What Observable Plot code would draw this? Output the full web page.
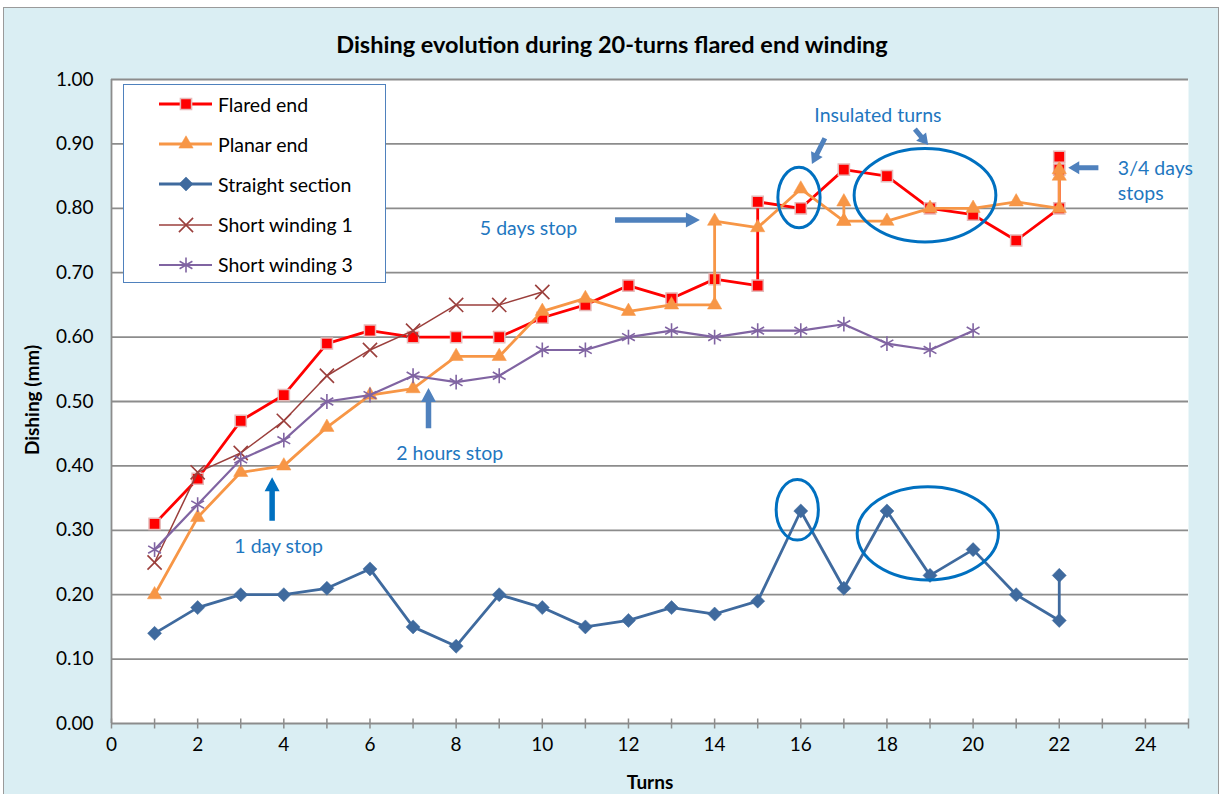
<!DOCTYPE html>
<html>
<head>
<meta charset="utf-8">
<script src="https://cdn.jsdelivr.net/npm/d3@7"></script>
<script src="https://cdn.jsdelivr.net/npm/@observablehq/plot@0.6"></script>
<style>
  body { margin: 0; background: #ffffff; font-family: Lato, "Open Sans", sans-serif; }
  #wrap { position: relative; width: 1221px; height: 794px; overflow: hidden; }
  #bg { position: absolute; left: 3px; top: 7px; width: 1216px; height: 800px; background: #DAEEF3; border: 1px solid #9a9a9a; box-sizing: border-box; }
  #chart { position: absolute; left: 0; top: 0; }
  #title { position: absolute; top: 44px; left: 612px; transform: translate(-50%, -50%); text-align: center; font-weight: bold; font-size: 23.5px; color: #000; white-space: nowrap; }
  #ylabel { position: absolute; left: 31px; top: 400px; transform: translate(-50%, -50%) rotate(-90deg); font-weight: bold; font-size: 19px; white-space: nowrap; }
  #xlabel { position: absolute; left: 650px; top: 781px; transform: translate(-50%, -50%); font-weight: bold; font-size: 19px; }
  #legend { position: absolute; left: 123px; top: 84px; width: 263px; height: 199px; background: #fff; border: 1.5px solid #4F81BD; box-sizing: border-box; }
  .lrow { position: absolute; left: 0; height: 24px; display: flex; align-items: center; font-size: 19.5px; white-space: nowrap; }
</style>
</head>
<body>
<div id="wrap">
  <div id="bg"></div>
  <div id="chart"></div>
  <div id="title">Dishing evolution during 20-turns flared end winding</div>
  <div id="ylabel">Dishing (mm)</div>
  <div id="xlabel">Turns</div>
  <div id="legend"></div>
</div>
<script>
// ---------- data (turn, dishing in mm), in measurement order ----------
const flaredEnd = [[1,0.31],[2,0.38],[3,0.47],[4,0.51],[5,0.59],[6,0.61],[7,0.60],[8,0.60],[9,0.60],[10,0.63],[11,0.65],[12,0.68],[13,0.66],[14,0.69],[15,0.68],[15,0.81],[16,0.80],[17,0.86],[18,0.85],[19,0.80],[20,0.79],[21,0.75],[22,0.80],[22,0.86],[22,0.88]];
const planarEnd = [[1,0.20],[2,0.32],[3,0.39],[4,0.40],[5,0.46],[6,0.51],[7,0.52],[8,0.57],[9,0.57],[10,0.64],[11,0.66],[12,0.64],[13,0.65],[14,0.65],[14,0.78],[15,0.77],[16,0.83],[17,0.78],[17,0.81],[17,0.78],[18,0.78],[19,0.80],[20,0.80],[21,0.81],[22,0.80],[22,0.85],[22,0.86]];
const straightSection = [[1,0.14],[2,0.18],[3,0.20],[4,0.20],[5,0.21],[6,0.24],[7,0.15],[8,0.12],[9,0.20],[10,0.18],[11,0.15],[12,0.16],[13,0.18],[14,0.17],[15,0.19],[16,0.33],[17,0.21],[18,0.33],[19,0.23],[20,0.27],[21,0.20],[22,0.16],[22,0.23]];
const shortWinding1 = [[1,0.25],[2,0.39],[3,0.42],[4,0.47],[5,0.54],[6,0.58],[7,0.61],[8,0.65],[9,0.65],[10,0.67]];
const shortWinding3 = [[1,0.27],[2,0.34],[3,0.41],[4,0.44],[5,0.50],[6,0.51],[7,0.54],[8,0.53],[9,0.54],[10,0.58],[11,0.58],[12,0.60],[13,0.61],[14,0.60],[15,0.61],[16,0.61],[17,0.62],[18,0.59],[19,0.58],[20,0.61]];

const seriesNames = ["Flared end", "Planar end", "Straight section", "Short winding 1", "Short winding 3"];

// ---------- ticks ----------
const xTicks = [0, 2, 4, 6, 8, 10, 12, 14, 16, 18, 20, 22, 24];
const xMinorTicks = [0, 1, 2, 3, 4, 5, 6, 7, 8, 9, 10, 11, 12, 13, 14, 15, 16, 17, 18, 19, 20, 21, 22, 23, 24, 25];
const yTicks = [0, 0.1, 0.2, 0.3, 0.4, 0.5, 0.6, 0.7, 0.8, 0.9, 1.0];

// ---------- annotations (data coordinates) ----------
const noteLabels = ["5 days stop", "1 day stop", "2 hours stop", "Insulated turns"];
const noteTurns = [9.68, 3.88, 7.85, 17.79];
const noteValues = [0.769, 0.274, 0.419, 0.944];
const stopsLabel = ["3/4 days\nstops"];
const stopsTurn = [23.36];
const stopsValue = [0.844];

// arrows: [turn from, value from, turn to (tip), value to (tip)]
const arrowsSteel = [
  [11.70, 0.781, 13.67, 0.781],
  [7.37, 0.4576, 7.37, 0.520],
  [16.57, 0.908, 16.27, 0.868],
  [18.66, 0.922, 18.97, 0.8975],
  [22.92, 0.862, 22.22, 0.862]
];
const arrowsBright = [
  [3.74, 0.314, 3.74, 0.3815]
];
// ellipses: [turn min, turn max, value min, value max]
const ellipses = [
  [15.48, 16.46, 0.769, 0.863],
  [17.25, 20.54, 0.747, 0.892],
  [15.44, 16.42, 0.284, 0.378],
  [17.32, 20.60, 0.222, 0.367]
];

// ---------- styles ----------
const styles = [
  {color: "#FF0000", width: 2.8, symbol: "square", r: 6.3, fill: "#FF0000", stroke: "#E6B9B8", sw: 1.5, rotate: 0},
  {color: "#F79646", width: 2.8, symbol: "triangle", r: 5.3, fill: "#F79646", stroke: "#F79646", sw: 0.5, rotate: 0},
  {color: "#3F6A9E", width: 2.8, symbol: "square", r: 5.6, fill: "#3F6A9E", stroke: "#3F6A9E", sw: 0.5, rotate: 45},
  {color: "#9B3F3C", width: 1.5, symbol: "times", r: 6.5, fill: "none", stroke: "#9B3F3C", sw: 1.6, rotate: 0},
  {color: "#8064A2", width: 2.2, symbol: "asterisk", r: 7, fill: "none", stroke: "#8064A2", sw: 1.6, rotate: 0}
];
const seriesData = [flaredEnd, planarEnd, straightSection, shortWinding1, shortWinding3];

const vtick = { draw(ctx) { ctx.moveTo(0, -5); ctx.lineTo(0, 5); } };

function blockArrow(x1, y1, x2, y2, shaftW = 5.5, headW = 15, headL = 14) {
  const dx = x2 - x1, dy = y2 - y1, L = Math.hypot(dx, dy);
  const ux = dx / L, uy = dy / L, nx = -uy, ny = ux;
  const hl = Math.min(headL, L * 0.6);
  const bx = x1 + ux * (L - hl), by = y1 + uy * (L - hl);
  const pts = [
    [x1 + nx * shaftW / 2, y1 + ny * shaftW / 2],
    [bx + nx * shaftW / 2, by + ny * shaftW / 2],
    [bx + nx * headW / 2, by + ny * headW / 2],
    [x2, y2],
    [bx - nx * headW / 2, by - ny * headW / 2],
    [bx - nx * shaftW / 2, by - ny * shaftW / 2],
    [x1 - nx * shaftW / 2, y1 - ny * shaftW / 2]
  ];
  return pts.map(p => p.join(",")).join(" ");
}

const marks = [
  Plot.frame({fill: "white", stroke: "none"}),
  Plot.ruleY(yTicks, {y: d => d, stroke: "#8C8C8C", strokeWidth: 1.8}),
  Plot.ruleX([0], {x: d => d, stroke: "#8C8C8C", strokeWidth: 1.8}),
  Plot.dot(xMinorTicks, {x: d => d, y: () => 0, symbol: vtick, stroke: "#8C8C8C", strokeWidth: 1.5}),
  Plot.axisY(yTicks, {tickSize: 0, tickPadding: 18, tickFormat: d3.format(".2f"), label: null, fontSize: 19}),
  Plot.axisX(xTicks, {tickSize: 0, tickPadding: 14, label: null, fontSize: 19})
];

seriesData.forEach((data, i) => {
  const s = styles[i];
  marks.push(Plot.line(data, {x: d => d[0], y: d => d[1], stroke: s.color, strokeWidth: s.width, curve: "linear"}));
  marks.push(Plot.dot(data, {x: d => d[0], y: d => d[1], symbol: s.symbol, r: s.r, fill: s.fill, stroke: s.stroke, strokeWidth: s.sw, rotate: s.rotate}));
});

// ellipses & block arrows drawn through the plot's scales
marks.push((index, scales) => {
  const {x, y} = scales;
  const g = d3.create("svg:g");
  for (const [t0, t1, v0, v1] of ellipses) {
    g.append("ellipse")
      .attr("cx", (x(t0) + x(t1)) / 2).attr("cy", (y(v0) + y(v1)) / 2)
      .attr("rx", Math.abs(x(t1) - x(t0)) / 2).attr("ry", Math.abs(y(v1) - y(v0)) / 2)
      .attr("fill", "none").attr("stroke", "#0070C0").attr("stroke-width", 3);
  }
  for (const [t0, v0, t1, v1] of arrowsSteel) {
    const L = Math.hypot(x(t1) - x(t0), y(v1) - y(v0));
    g.append("polygon").attr("points", L < 40 ? blockArrow(x(t0), y(v0), x(t1), y(v1), 5, 13, 11) : blockArrow(x(t0), y(v0), x(t1), y(v1)))
      .attr("fill", "#4F81BD");
  }
  for (const [t0, v0, t1, v1] of arrowsBright) {
    g.append("polygon").attr("points", blockArrow(x(t0), y(v0), x(t1), y(v1)))
      .attr("fill", "#0070C0");
  }
  return g.node();
});

marks.push(Plot.text(noteLabels, {x: (d, i) => noteTurns[i], y: (d, i) => noteValues[i], text: d => d, fill: "#1F77C0", fontSize: 19.5}));
marks.push(Plot.text(stopsLabel, {x: (d, i) => stopsTurn[i], y: (d, i) => stopsValue[i], text: d => d, fill: "#1F77C0", fontSize: 19.5, textAnchor: "start", lineHeight: 1.28}));

const chart = Plot.plot({
  width: 1221,
  height: 794,
  marginLeft: 111,
  marginRight: 33,
  marginTop: 79,
  marginBottom: 71,
  x: {domain: [0, 25], axis: null},
  y: {domain: [0, 1], axis: null},
  style: {background: "transparent", fontFamily: "Lato, 'Open Sans', sans-serif", fontSize: "19px", color: "#000", overflow: "visible"},
  marks
});
document.getElementById("chart").appendChild(chart);

// ---------- legend (inside plot area) ----------
const legend = d3.select("#legend");
seriesNames.forEach((name, i) => {
  const s = styles[i];
  const row = legend.append("div").attr("class", "lrow").style("top", `${19 + i * 40.2 - 12}px`);
  const svg = row.append("svg").attr("width", 92).attr("height", 24);
  svg.append("line").attr("x1", 35).attr("x2", 88).attr("y1", 12).attr("y2", 12)
    .attr("stroke", s.color).attr("stroke-width", s.width);
  const symMap = {square: d3.symbolSquare, triangle: d3.symbolTriangle, times: d3.symbolTimes, asterisk: d3.symbolAsterisk};
  svg.append("path").attr("d", d3.symbol(symMap[s.symbol], Math.PI * s.r * s.r)())
    .attr("transform", `translate(62,12) rotate(${s.rotate})`)
    .attr("fill", s.fill).attr("stroke", s.stroke).attr("stroke-width", s.sw);
  row.append("span").text(name).style("margin-left", "2px");
});
</script>
</body>
</html>
